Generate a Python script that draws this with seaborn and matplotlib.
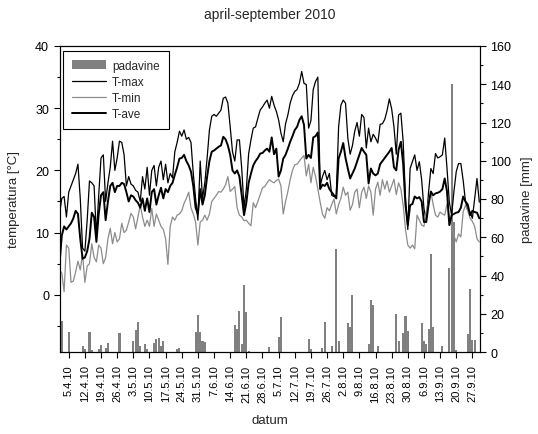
import numpy as np
import pandas as pd
import matplotlib
matplotlib.use("Agg")
import matplotlib.pyplot as plt
import seaborn as sns
from matplotlib.patches import Patch
from matplotlib.lines import Line2D
from matplotlib.ticker import MultipleLocator, FixedLocator

sns.set_theme(style="ticks")
plt.rcParams["font.family"] = ["Liberation Sans", "DejaVu Sans"]

# ---------------- data ----------------
dates = pd.date_range("2010-04-01", "2010-09-30", freq="D")

t_max = [13, 15.5, 15.8, 12.5, 16.5, 17.5, 18.5, 19.5, 21, 15.5,
         7.5, 7, 12, 18.3, 18, 17.5, 9.5, 16, 22, 22.5,
         15, 18, 20.5, 24.7, 20, 22, 24.7, 24.5, 22.5, 17.5,
         19, 17.8, 17.5, 16.8, 16.5, 15, 19, 17, 20.5, 16,
         20, 20.8, 17.5, 20.5, 21.5, 18.5, 21, 18, 19.5, 18.8,
         23, 24.5, 26.3, 25.5, 26.5, 25, 25.3, 24.5, 19.5, 15.5,
         12, 21.5, 15.5, 18, 22, 26.5, 28.7, 29, 28.7, 29.2,
         29.7, 31.6, 31.8, 30.8, 27, 23, 21.5, 24.9, 24.9, 20.3,
         14, 17, 22.7, 24.9, 26.8, 27, 28.4, 29.7, 30.2, 30.8,
         31.3, 30, 31.9, 30.5, 29.5, 28.1, 26, 24.6, 27.5, 28.9,
         30.8, 32, 32.7, 33, 34, 35.9, 34, 33.8, 26.8, 28,
         33, 34.3, 35, 17.5, 19, 20, 18.5, 19.5, 16, 15.8,
         16, 27, 30.5, 31.3, 30.8, 25.2, 22.6, 24, 26.3, 27.7,
         25.5, 29, 28.5, 23.6, 26.8, 24.6, 25.8, 25.2, 24.4, 27.4,
         27.5, 28.2, 29.6, 31.5, 29.9, 27, 22.6, 28.9, 29.2, 24.6,
         15.5, 10.5, 20.3, 21.4, 22.5, 20, 21.4, 18.5, 13.9, 11.8,
         16.5, 20.3, 19.5, 22.7, 22, 22.2, 22.5, 25.2, 20.3, 14.9,
         12.8, 16.6, 19.8, 21.1, 21.1, 18.4, 15, 13.6, 13.3, 12.3,
         15.5, 18.7, 14.9]

t_min = [4, 3.5, 0.5, 8, 7.5, 2, 2.2, 3.7, 5.4, 4,
         6.5, 2, 4.6, 5, 8.2, 6, 5.3, 8, 7.5, 5,
         6, 9, 10.7, 8.2, 10, 8.5, 9, 11.5, 10, 10.4,
         11.7, 13.1, 12.5, 10.6, 12.5, 14.4, 12.5, 11, 12, 11,
         13.9, 11, 13, 12, 11, 10.5, 9, 4.9, 11, 12.5,
         12, 12.8, 13, 13.5, 14.7, 15.5, 16.5, 14, 13, 11.7,
         8, 11.7, 12, 12.8, 12, 13, 15, 15.5, 16, 16.6,
         16.5, 17, 17.7, 19, 16.6, 17, 17.4, 14, 12.8, 12.5,
         11.9, 12, 11.5, 11.1, 14.8, 14, 15, 16.1, 17.2, 17.4,
         18, 18.5, 18.2, 18, 18.4, 18.6, 17.5, 13, 15, 16.6,
         18.5, 20, 20.9, 21, 21.5, 22, 22.4, 19.1, 21, 18,
         20.5, 19, 17, 14.9, 13, 12.3, 14, 13.5, 14.5, 15.4,
         13, 14.5, 15.5, 17.3, 16, 16.5, 13.6, 14.5, 16.5, 17,
         14, 16.5, 17.3, 15.5, 17.5, 16.5, 12.8, 17, 18.1, 16,
         18.5, 17, 18.3, 16.5, 17.5, 18.6, 16.1, 18, 17, 14.4,
         10.5, 8, 7.5, 8, 7.4, 12.8, 12, 11.2, 11, 13.3,
         15, 16.6, 14.5, 12.8, 12.5, 13.3, 13, 12.8, 14.6, 12.5,
         11, 9.5, 8.5, 9.8, 9.3, 13.3, 14.4, 13.5, 12.3, 11.8,
         11, 9, 8.5]

t_ave = [5, 9.5, 11, 10.5, 11, 11.5, 12.3, 13.5, 13, 9,
         5.8, 6, 7, 9, 13.2, 12.5, 8.5, 13, 16, 16.5,
         12, 15, 17.5, 18, 16.5, 17.5, 17.5, 18, 17.8, 16.5,
         15, 16, 15.8, 15.2, 14.8, 14, 15.5, 13.5, 15.5, 13.3,
         16.5, 17, 14.5, 16, 17.2, 15.5, 17, 16.5, 17.5, 18,
         19.3, 20.5, 21.9, 22, 22.5, 21.5, 20.8, 19.8, 17.5, 14,
         13, 17, 14.5, 16, 19, 21.5, 23, 23.2, 23.5, 23.8,
         24, 25.4, 25, 24, 22.5, 20, 19.5, 20, 19, 16,
         12.8, 14.8, 18, 19.5, 20.8, 21.5, 22, 22.7, 22.8, 23.2,
         23.5, 23, 25.3, 22.6, 23.5, 19, 20, 21.9, 22.5, 23.5,
         24.6, 25.5, 26.5, 27, 28.1, 28.7, 27.3, 21.9, 22.5, 22,
         25.3, 25.5, 26.1, 17, 17.7, 17.5, 18, 17, 16.5, 16,
         15.5, 21.9, 23, 24.4, 22, 20.3, 18.7, 19.5, 20.3, 21.4,
         22.5, 23.6, 23, 22.5, 17.9, 20.3, 19.5, 19.2, 19.5, 21,
         21.5, 22, 22.5, 23, 23.6, 20.5, 20, 23.3, 24.6, 21,
         14.4, 11.2, 14.4, 14.6, 15.8, 15.5, 15.7, 15, 11.7, 11.7,
         14.5, 16.6, 16, 16.3, 16.4, 16.6, 17, 18.7, 16.6, 11.2,
         12.8, 13, 13.2, 13.3, 14, 15.8, 15, 14.5, 12.8, 13.5,
         13.3, 13.2, 12.3]

rain_dates = ["1.4", "2.4", "5.4", "11.4", "12.4", "14.4", "15.4", "18.4", "19.4",
              "21.4", "22.4", "27.4", "3.5", "4.5", "5.5", "6.5", "8.5", "9.5",
              "12.5", "13.5", "14.5", "15.5", "16.5", "22.5", "23.5", "30.5", "31.5",
              "1.6", "2.6", "3.6", "16.6", "17.6", "18.6", "19.6", "20.6", "21.6",
              "22.6", "1.7", "5.7", "6.7", "18.7", "19.7", "24.7", "25.7", "28.7",
              "30.7", "31.7", "4.8", "5.8", "6.8", "13.8", "14.8", "15.8", "17.8",
              "25.8", "26.8", "28.8", "29.8", "30.8", "5.9", "6.9", "7.9", "8.9",
              "9.9", "10.9", "14.9", "17.9", "18.9", "19.9", "20.9", "25.9", "26.9",
              "27.9", "28.9"]
rain_mm = [25, 16, 10.7, 3, 1.5, 10.7, 1, 1.5, 3.5,
           2, 4.5, 10, 6, 11.6, 15.6, 3.2, 4, 1.5,
           4.6, 7, 7.4, 3, 5.7, 1.5, 2, 10.5, 19.3,
           10.5, 5.6, 5.2, 14.2, 12, 21.3, 4.2, 35.2, 20.8,
           0.7, 2.4, 7.7, 18.2, 7, 1.5, 2, 15.5, 3.3,
           54, 5.6, 15, 13, 30, 4, 27.3, 24.5, 3,
           20, 6, 10, 19, 10.8, 15, 6, 4, 12,
           51, 13, 3.3, 44, 140, 68, 1.3, 9.5, 33,
           6.5, 6.5]

tick_labels = ["5.4.10", "12.4.10", "19.4.10", "26.4.10", "3.5.10", "10.5.10",
               "17.5.10", "24.5.10", "31.5.10", "7.6.10", "14.6.10", "21.6.10",
               "28.6.10", "5.7.10", "12.7.10", "19.7.10", "26.7.10", "2.8.10",
               "9.8.10", "16.8.10", "23.8.10", "30.8.10", "6.9.10", "13.9.10",
               "20.9.10", "27.9.10"]

# ---------------- table ----------------
day = np.arange(len(dates))
rain = pd.Series(0.0, index=dates)
for d, v in zip(rain_dates, rain_mm):
    rain[pd.to_datetime(d + ".2010", format="%d.%m.%Y")] = v
df = pd.DataFrame({"day": day, "tmax": t_max, "tmin": t_min, "tave": t_ave,
                   "rain": rain.values})
tick_pos = [(pd.to_datetime(s, format="%d.%m.%y") - dates[0]).days for s in tick_labels]

# ---------------- figure ----------------
fig = plt.figure(figsize=(5.38, 4.35), dpi=100)
ax = fig.add_axes([59.5 / 538, 1 - 353 / 435, (480 - 59.5) / 538, (353 - 47) / 435])
ax2 = ax.twinx()

grey = "#808080"
sns.barplot(data=df, x="day", y="rain", ax=ax2, color=grey, width=0.9,
            errorbar=None, saturation=1, linewidth=0, native_scale=True)

sns.lineplot(data=df, x="day", y="tmax", ax=ax, color="black", lw=0.9)
sns.lineplot(data=df, x="day", y="tmin", ax=ax, color="#8c8c8c", lw=0.9)
sns.lineplot(data=df, x="day", y="tave", ax=ax, color="black", lw=1.4)

ax.set_zorder(ax2.get_zorder() + 1)
ax.patch.set_visible(False)

ax.set_xlim(0, 182.3)
ax.set_ylim(-9.2, 40)
ax2.set_ylim(0, 160)

ax.yaxis.set_major_locator(FixedLocator([0, 10, 20, 30, 40]))
ax.yaxis.set_minor_locator(FixedLocator([-5, 5, 15, 25, 35]))
ax2.yaxis.set_major_locator(MultipleLocator(20))
ax2.yaxis.set_minor_locator(MultipleLocator(10))
ax.set_xticks(tick_pos)
ax.set_xticklabels(tick_labels, rotation=90, fontsize=8)
ax2.set_xticks(tick_pos)

for a in (ax, ax2):
    a.tick_params(axis="both", which="major", direction="out", length=4, width=0.8,
                  color="black", labelsize=9, labelcolor="black")
    a.tick_params(axis="y", which="minor", direction="out", length=2.5, width=0.8,
                  color="black")
    for s in a.spines.values():
        s.set_visible(True)
        s.set_color("black")
        s.set_linewidth(0.8)
ax.tick_params(axis="x", labelsize=8, pad=5)

ax.set_xlabel("datum", fontsize=9.5, labelpad=9)
ax.set_ylabel("temperatura [°C]", fontsize=9.5, labelpad=11)
ax2.set_ylabel("padavine [mm]", fontsize=9.5, labelpad=7)
ax.set_title("april-september 2010", fontsize=10, pad=20)

handles = [Patch(facecolor=grey, edgecolor="none"),
           Line2D([], [], color="black", lw=0.9),
           Line2D([], [], color="#8c8c8c", lw=0.9),
           Line2D([], [], color="black", lw=1.4)]
leg = ax.legend(handles, ["padavine", "T-max", "T-min", "T-ave"], loc="upper left",
                bbox_to_anchor=(0.009, 0.984), borderaxespad=0, fontsize=8.5,
                frameon=True, fancybox=False, edgecolor="black", framealpha=1,
                handlelength=2.9, handletextpad=0.5, labelspacing=0.35,
                borderpad=0.75)
leg.get_frame().set_linewidth(0.8)

fig.savefig("out.png", dpi=100)
